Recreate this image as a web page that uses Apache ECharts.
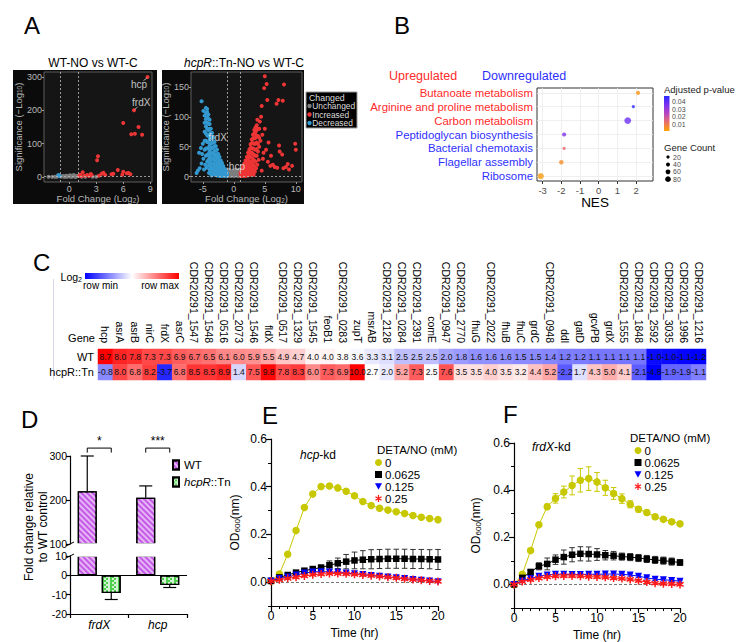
<!DOCTYPE html>
<html>
<head>
<meta charset="utf-8">
<title>Figure</title>
<script src="https://cdn.jsdelivr.net/npm/echarts@6.0.0/dist/echarts.min.js"></script>
<style>
html,body{margin:0;padding:0;background:#ffffff;width:741px;height:642px;overflow:hidden;}
.layer{position:absolute;left:0;top:0;width:741px;height:642px;}
</style>
</head>
<body>
<div id="chartA" class="layer"></div>
<div id="chartB" class="layer"></div>
<div id="chartC" class="layer"></div>
<div id="chartD" class="layer"></div>
<div id="chartE" class="layer"></div>
<div id="chartF" class="layer"></div>
<script>
// ================= DATA =================
// Panel A: volcano plots [log2 fold change, -log10 p]
const aLeftGray = [[-2.3,0.5],[-1.9,0.4],[-1.6,1],[-1.4,0.6],[-1.3,2],[-0.9,1.5],[-0.7,3],[-0.6,0.8],[-0.5,2],[-0.4,0.5],[-0.3,4],[-0.2,1],[-0.1,3],[0,2],[0.1,5],[0.2,1],[0.25,2.5],[0.3,0.5],[0.4,3],[0.5,6],[0.55,3.5],[0.6,1.5],[0.7,0.3],[0.8,2.5],[0.9,4],[1.4,0.5],[1.8,1],[2.6,0.6],[3.0,0.5]];
const aLeftRed = [[8.7,300],[7.2,200],[6.0,162],[7.7,150],[7.3,130],[6.9,128],[8.1,127],[3.2,62],[3.1,50],[3.6,10],[3.8,13],[4.0,6],[2.5,5],[2.4,9],[1.5,14],[1.2,7],[1.7,4],[2.0,6],[3.3,4],[4.7,8],[4.9,10],[5.4,21],[6.0,16],[6.6,12],[6.4,11],[5.9,7],[6.8,8],[1.1,3],[1.3,2],[2.2,3]];
const aLeftBlue = [[-1.1,4],[-1.2,6],[-1.05,2]];
const aLeftLabels = [{name:'hcp', value:[7.75,279]},{name:'frdX', value:[8.0,223]}];
const aLeftLinks = [[[8.65,297],[8.25,289]],[[7.25,202],[7.6,210]]];

const aRightGray = [[-0.95,7],[-0.9,2],[-0.8,5],[-0.8,9],[-0.7,5],[-0.6,3],[-0.5,1],[-0.4,8],[-0.3,6],[-0.2,3],[-0.1,10],[0,1],[0.1,6],[0.2,9],[0.3,2],[0.4,7],[0.5,4],[0.6,8],[0.7,1],[0.8,6],[0.85,10],[0.9,3],[0.95,12],[-1.0,12],[-0.65,11],[0.35,12]];
const aRightBlue = [
[-1.1,1],[-1.1,4],[-1.1,7],[-1.3,2],[-1.3,6],[-1.3,10],[-1.5,1],[-1.5,5],[-1.5,9],[-1.5,13],
[-1.7,3],[-1.7,8],[-1.7,13],[-1.7,18],[-1.9,1],[-1.9,6],[-1.9,12],[-1.9,18],[-1.9,23],
[-2.1,3],[-2.1,9],[-2.1,15],[-2.1,21],[-2.1,27],[-2.3,1],[-2.3,7],[-2.3,13],[-2.3,20],[-2.3,27],[-2.3,33],
[-2.5,4],[-2.5,11],[-2.5,18],[-2.5,25],[-2.5,32],[-2.5,38],[-2.7,2],[-2.7,9],[-2.7,16],[-2.7,24],[-2.7,31],[-2.7,38],[-2.7,45],
[-2.9,5],[-2.9,12],[-2.9,20],[-2.9,28],[-2.9,36],[-2.9,44],[-2.9,51],
[-3.1,3],[-3.1,10],[-3.1,18],[-3.1,27],[-3.1,35],[-3.1,43],[-3.1,51],[-3.1,58],
[-3.3,6],[-3.3,14],[-3.3,22],[-3.3,31],[-3.3,40],[-3.3,49],[-3.3,57],[-3.3,65],
[-3.5,4],[-3.5,12],[-3.5,21],[-3.5,30],[-3.5,39],[-3.5,48],[-3.5,57],[-3.5,66],[-3.5,73],
[-3.7,8],[-3.7,17],[-3.7,27],[-3.7,36],[-3.7,46],[-3.7,55],[-3.7,64],[-3.7,73],[-3.7,80],
[-3.9,12],[-3.9,22],[-3.9,32],[-3.9,42],[-3.9,52],[-3.9,62],[-3.9,71],[-3.9,80],[-3.9,88],[-3.9,95],
[-4.1,18],[-4.1,28],[-4.1,38],[-4.1,48],[-4.1,58],[-4.1,68],[-4.1,78],[-4.1,88],[-4.1,97],[-4.1,104],
[-4.3,25],[-4.3,36],[-4.3,47],[-4.3,58],[-4.3,69],[-4.3,80],[-4.3,90],[-4.3,100],[-4.3,108],[-4.3,113],
[-4.5,35],[-4.5,47],[-4.5,60],[-4.5,72],[-4.5,84],[-4.5,96],[-4.5,107],[-4.5,115],
[-4.7,45],[-4.7,60],[-4.7,75],[-4.7,90],[-4.7,102],
[-5.2,126],[-4.9,110],[-5.0,55],[-5.3,48],[-5.6,40],[-4.9,30],[-5.2,22],[-5.5,14],[-6.0,6],[-5.8,10],[-4.6,20],[-4.8,12],[-5.1,38],[-4.4,15],[-4.0,6],[-3.6,2]];
const aRightRed = [
[1.1,1],[1.1,4],[1.1,7],[1.3,2],[1.3,5],[1.3,9],[1.3,12],[1.5,1],[1.5,5],[1.5,9],[1.5,13],[1.5,17],
[1.7,3],[1.7,7],[1.7,12],[1.7,17],[1.7,22],[1.9,1],[1.9,6],[1.9,11],[1.9,16],[1.9,22],[1.9,27],
[2.1,3],[2.1,9],[2.1,15],[2.1,21],[2.1,27],[2.1,33],[2.3,2],[2.3,8],[2.3,14],[2.3,21],[2.3,28],[2.3,34],[2.3,40],
[2.5,5],[2.5,11],[2.5,18],[2.5,25],[2.5,32],[2.5,39],[2.5,45],[2.7,3],[2.7,10],[2.7,17],[2.7,25],[2.7,33],[2.7,41],[2.7,48],[2.7,54],
[2.9,8],[2.9,15],[2.9,23],[2.9,31],[2.9,40],[2.9,48],[2.9,56],[2.9,62],
[3.1,12],[3.1,20],[3.1,29],[3.1,38],[3.1,47],[3.1,56],[3.1,64],[3.1,70],
[3.3,18],[3.3,27],[3.3,36],[3.3,46],[3.3,55],[3.3,64],[3.3,72],[3.3,78],
[3.5,25],[3.5,35],[3.5,45],[3.5,55],[3.5,65],[3.5,74],[3.5,82],
[3.7,35],[3.7,46],[3.7,57],[3.7,68],[3.7,78],[3.7,86],[3.9,42],[3.9,55],[3.9,68],[3.9,80],[4.1,50],[4.1,65],[4.1,80],
[3.2,3],[3.4,8],[3.6,14],[3.8,20],[4.0,28],
[5.0,168],[5.3,155],[8.1,154],[4.9,148],[5.4,128],[7.2,128],[7.9,127],[6.9,122],[4.5,118],[4.4,100],[4.2,92],[3.8,95],[5.0,80],[4.6,70],[4.3,60],[5.6,57],[5.2,45],[6.0,35],[7.3,52],[7.4,42],[8.4,16],[9.9,55],[10.0,45],[9.4,18],[8.7,21],[6.6,16],[7.0,15],[5.9,18],[8.0,14],[6.3,20],[4.7,30],[4.5,10],[5.5,25],[7.8,37],[8.9,12],[4.8,40]];
const aRightLabels = [{name:'frdX', value:[-2.6,66]},{name:'hcp', value:[0.5,17]}];

// Panel B: GSEA
const bPathways = ['Ribosome','Flagellar assembly','Bacterial chemotaxis','Peptidoglycan biosynthesis','Carbon metabolism','Arginine and proline metabolism','Butanoate metabolism'];
const bUp = [false,false,false,false,true,true,true];
const bNES = [-3.1,-2.0,-1.85,-1.85,1.55,1.85,2.1];
const bPadj = [0.003,0.006,0.014,0.035,0.038,0.047,0.004];
const bCount = [95,55,25,45,110,20,45];
const bPTicks = [0.01,0.02,0.03,0.04];
const bCountTicks = [20,40,60,80];

// Panel C: heatmap
const cGenes = ['hcp','asrA','asrB','nirC','frdX','asrC','CDR20291_1547','CDR20291_1548','CDR20291_0516','CDR20291_2073','CDR20291_1546','fldX','CDR20291_0517','CDR20291_1329','CDR20291_1545','feoB1','CDR20291_0283','zupT','msrAB','CDR20291_2128','CDR20291_0284','CDR20291_2391','comE','CDR20291_0947','CDR20291_2770','fhuG','CDR20291_2022','fhuB','fhuC','grdC','CDR20291_0948','ddl','gatD','gcvPB','grdX','CDR20291_1555','CDR20291_1848','CDR20291_2592','CDR20291_3035','CDR20291_1996','CDR20291_1216'];
const cWT = [8.7,8.0,7.8,7.3,7.3,6.9,6.7,6.5,6.1,6.0,5.9,5.5,4.9,4.7,4.0,4.0,3.8,3.6,3.3,3.1,2.5,2.5,2.5,2.0,1.8,1.6,1.6,1.6,1.5,1.5,1.4,1.2,1.2,1.1,1.1,1.1,1.1,-1.0,-1.0,-1.1,-1.2];
const cHcpR = [-0.8,8.0,6.8,8.2,-3.7,6.8,8.5,8.5,8.9,1.4,7.5,9.8,7.8,8.3,6.0,7.3,6.9,10.0,2.7,2.0,5.2,7.3,2.5,7.6,3.5,3.5,4.0,3.5,3.2,4.4,5.2,-2.2,1.7,4.3,5.0,4.1,-2.1,-4.8,-1.9,-1.9,-1.1];
const cRows = ['hcpR::Tn','WT'];

// Panel D: qRT-PCR
const dGenes = ['frdX','hcp'];
const dWT = [220,205];
const dWTErr = [80,27];
const dHcpR = [-9.2,-5.0];
const dHcpRErr = [3.3,1.3];
const dSig = ['*','***'];

// Panels E/F: growth curves
const timeHr = [0,1,2,3,4,5,6,7,8,9,10,11,12,13,14,15,16,17,18,19,20];
const detaLevels = ['0','0.0625','0.125','0.25'];
const e0 = [0.005,0.034,0.117,0.216,0.313,0.369,0.401,0.403,0.395,0.381,0.362,0.338,0.321,0.310,0.302,0.295,0.288,0.279,0.272,0.267,0.262];
const e0Err = [0,0,0.003,0.003,0.003,0.003,0.003,0.003,0.003,0.003,0.003,0.003,0.003,0.003,0.003,0.003,0.003,0.003,0.003,0.003,0.003];
const e1 = [0.005,0.02,0.03,0.04,0.048,0.055,0.061,0.071,0.079,0.086,0.091,0.094,0.096,0.097,0.098,0.098,0.098,0.097,0.097,0.096,0.095];
const e1Err = [0,0.002,0.003,0.004,0.005,0.007,0.01,0.018,0.022,0.03,0.035,0.038,0.04,0.04,0.04,0.04,0.04,0.04,0.04,0.04,0.042];
const e2 = [0.005,0.015,0.022,0.03,0.038,0.043,0.044,0.043,0.041,0.038,0.035,0.032,0.028,0.025,0.022,0.018,0.015,0.011,0.008,0.005,0.002];
const e2Err = [0,0.003,0.003,0.004,0.004,0.004,0.004,0.004,0.004,0.004,0.004,0.004,0.004,0.004,0.004,0.004,0.004,0.004,0.004,0.004,0.004];
const e3 = [0.004,0.01,0.016,0.021,0.026,0.031,0.034,0.036,0.036,0.035,0.033,0.030,0.027,0.024,0.021,0.018,0.014,0.011,0.008,0.005,0.003];
const e3Err = [0,0.003,0.003,0.004,0.004,0.004,0.004,0.004,0.004,0.004,0.004,0.004,0.004,0.004,0.004,0.004,0.004,0.004,0.004,0.004,0.004];
const f0 = [0.0,0.043,0.144,0.253,0.330,0.365,0.392,0.420,0.442,0.449,0.435,0.410,0.386,0.364,0.340,0.319,0.305,0.287,0.276,0.266,0.257];
const f0Err = [0,0.005,0.006,0.007,0.01,0.02,0.025,0.04,0.05,0.05,0.04,0.032,0.025,0.02,0.015,0.012,0.01,0.01,0.008,0.008,0.008];
const f1 = [0.0,0.028,0.053,0.077,0.087,0.105,0.116,0.126,0.130,0.129,0.127,0.124,0.122,0.118,0.116,0.112,0.108,0.104,0.101,0.097,0.093];
const f1Err = [0,0.005,0.008,0.015,0.025,0.02,0.03,0.03,0.03,0.03,0.025,0.02,0.018,0.015,0.015,0.015,0.015,0.015,0.015,0.015,0.012];
const f2 = [0.0,0.015,0.025,0.035,0.040,0.043,0.043,0.042,0.042,0.043,0.043,0.044,0.044,0.043,0.040,0.035,0.028,0.022,0.020,0.017,0.014];
const f2Err = [0,0.004,0.005,0.005,0.005,0.005,0.005,0.005,0.005,0.005,0.005,0.005,0.005,0.005,0.005,0.005,0.005,0.005,0.005,0.005,0.005];
const f3 = [0.0,0.012,0.020,0.027,0.032,0.035,0.036,0.036,0.035,0.033,0.032,0.030,0.027,0.025,0.021,0.016,0.010,0.005,0.003,0.002,0.0];
const f3Err = [0,0.004,0.005,0.005,0.005,0.005,0.005,0.005,0.005,0.005,0.005,0.005,0.005,0.005,0.005,0.005,0.005,0.005,0.005,0.005,0.005];

// ================= HELPERS =================
const FONT = '"Liberation Sans", Arial, Helvetica, sans-serif';
function txt(x, y, text, o) {
  o = o || {};
  const al = o.align || 'left', va = o.va || 'middle';
  const st = {text: text, fill: o.color || '#000', fontSize: o.size || 12, fontFamily: FONT,
    fontStyle: o.italic ? 'italic' : 'normal', fontWeight: o.bold ? 'bold' : 'normal',
    align: al, textAlign: al, verticalAlign: va, textVerticalAlign: va};
  if (o.rich) st.rich = o.rich;
  if (o.lh) st.lineHeight = o.lh;
  return {type: 'text', x: x, y: y, rotation: o.rot || 0, z: 100, silent: true, style: st};
}
function mk(id) {
  return echarts.init(document.getElementById(id), null, {renderer: 'svg', width: 741, height: 642});
}

// ================= PANEL A =================
(function () {
  const dt = '#b8b8b8';
  const sub = {s: {fontSize: 6.5, color: dt, fontFamily: FONT, verticalAlign: 'bottom'}};
  function xAx(gi, min, max, ticks) {
    return {type: 'value', gridIndex: gi, min: min, max: max,
      axisLine: {show: false, onZero: false},
      axisTick: {show: true, length: 2, customValues: ticks, lineStyle: {color: '#9a9a9a'}},
      axisLabel: {customValues: ticks, color: dt, fontSize: 9, margin: 2, fontFamily: FONT},
      splitLine: {show: false},
      name: 'Fold Change (Log{s|2})', nameLocation: 'middle', nameGap: 11,
      nameTextStyle: {color: dt, fontSize: 9.5, fontFamily: FONT, rich: sub}};
  }
  function yAx(gi, min, max, ticks, gap) {
    return {type: 'value', gridIndex: gi, min: min, max: max,
      axisLine: {show: false, onZero: false},
      axisTick: {show: true, length: 2, customValues: ticks, lineStyle: {color: '#9a9a9a'}},
      axisLabel: {customValues: ticks, color: dt, fontSize: 9, margin: 2, fontFamily: FONT},
      splitLine: {show: false},
      name: 'Significance (\u2212Log{s|10})', nameLocation: 'middle', nameGap: gap,
      nameTextStyle: {color: dt, fontSize: 9.5, fontFamily: FONT, rich: sub}};
  }
  const ml = {silent: true, symbol: 'none', label: {show: false},
    lineStyle: {color: '#bdbdbd', type: [2, 2], width: 0.8},
    data: [{xAxis: -1}, {xAxis: 1}, {yAxis: 1.3}]};
  function pts(name, gi, data, color, withML) {
    const s = {type: 'scatter', name: name, xAxisIndex: gi, yAxisIndex: gi, data: data,
      symbolSize: 4, itemStyle: {color: color, opacity: 1}, silent: true};
    if (withML) s.markLine = ml;
    return s;
  }
  function labs(gi, data) {
    return {type: 'scatter', xAxisIndex: gi, yAxisIndex: gi, data: data, symbolSize: 0, silent: true, z: 5,
      label: {show: true, position: 'inside', formatter: '{b}', color: '#eeeeee', fontSize: 10, fontFamily: FONT}};
  }
  const series = [
    pts('Unchanged', 0, aLeftGray, '#7d7d7d', true),
    pts('Increased', 0, aLeftRed, '#ee3535'),
    pts('Decreased', 0, aLeftBlue, '#3399d0'),
    labs(0, aLeftLabels),
    pts('Unchanged', 1, aRightGray, '#7d7d7d', true),
    pts('Increased', 1, aRightRed, '#ee3535'),
    pts('Decreased', 1, aRightBlue, '#3399d0'),
    labs(1, aRightLabels)
  ];
  aLeftLinks.forEach(function (seg) {
    series.push({type: 'line', xAxisIndex: 0, yAxisIndex: 0, data: seg, symbol: 'none', silent: true,
      lineStyle: {color: '#cccccc', width: 0.8}});
  });
  const legendItems = [['Unchanged', '#7d7d7d'], ['Increased', '#ee3535'], ['Decreased', '#3399d0']];
  const g = [
    txt(24, 25, 'A', {size: 24}),
    {type: 'rect', shape: {x: 13, y: 70, width: 144, height: 134}, style: {fill: '#0b0b0b'}, z: -10},
    {type: 'rect', shape: {x: 162, y: 70, width: 142, height: 134}, style: {fill: '#0b0b0b'}, z: -10},
    txt(93, 63, 'WT-NO vs WT-C', {size: 12, align: 'center'}),
    txt(244, 63, '{i|hcpR}::Tn-NO vs WT-C', {size: 12, align: 'center', rich: {i: {fontStyle: 'italic', fontSize: 12, fontFamily: FONT}}}),
    {type: 'rect', shape: {x: 306, y: 92, width: 51, height: 36}, style: {fill: '#000', stroke: '#9a9a9a', lineWidth: 1}, z: 50},
    txt(309, 97.5, 'Changed', {size: 8.8, color: '#dddddd'})
  ];
  legendItems.forEach(function (it, i) {
    g.push({type: 'circle', shape: {cx: 309.5, cy: 106 + i * 8.5, r: 2.2}, style: {fill: it[1]}, z: 60});
    g.push(txt(312.3, 106 + i * 8.5, it[0], {size: 8.4, color: '#dddddd'}));
  });
  mk('chartA').setOption({
    animation: false,
    textStyle: {fontFamily: FONT},
    graphic: g,
    grid: [
      {left: 44, top: 72, width: 108, height: 110, show: true, backgroundColor: '#151515', borderColor: '#5e5e5e', borderWidth: 1},
      {left: 191, top: 72, width: 111, height: 110, show: true, backgroundColor: '#151515', borderColor: '#5e5e5e', borderWidth: 1}
    ],
    xAxis: [xAx(0, -2.8, 9.2, [0, 3, 6, 9]), xAx(1, -6.9, 11, [-5, 0, 5, 10])],
    yAxis: [yAx(0, -15, 315, [0, 100, 200, 300], 19.5), yAx(1, -9, 175, [0, 50, 100, 150], 18)],
    series: series
  });
})();

// ================= PANEL B =================
(function () {
  const bSize = function (c) { return 2.4 + c * 0.04; };
  const pMin = 0.001, pMax = 0.048;
  const barTop = 96, barH = 35;
  const pColors = ['#ffa500', '#e8706a', '#b845c0', '#7a30f0', '#2a2aff'];
  const red = '#ff2a2a', blue = '#2f2fff';
  const g = [
    txt(394, 25, 'B', {size: 24}),
    txt(389, 76, 'Upregulated', {size: 12.5, color: red}),
    txt(482, 76, 'Downregulated', {size: 12.5, color: blue}),
    txt(664, 89, 'Adjusted p-value', {size: 9.5, color: '#222'}),
    {type: 'rect', shape: {x: 664, y: barTop, width: 5.5, height: barH},
      style: {fill: new echarts.graphic.LinearGradient(0, 1, 0, 0, pColors.map(function (c, i) { return {offset: i / (pColors.length - 1), color: c}; }))}},
    txt(664, 147, 'Gene Count', {size: 9.5, color: '#222'})
  ];
  bPTicks.forEach(function (p) {
    const y = barTop + barH - (p - pMin) / (pMax - pMin) * barH;
    g.push(txt(672, y, p.toFixed(2), {size: 7, color: '#4d4d4d'}));
  });
  bCountTicks.forEach(function (c, i) {
    const y = 157 + i * 7.4;
    g.push({type: 'circle', shape: {cx: 668, cy: y, r: bSize(c) / 2}, style: {fill: '#000'}});
    g.push(txt(673, y, String(c), {size: 7, color: '#4d4d4d'}));
  });
  const idx = [0, 1, 2, 3, 4, 5, 6];
  mk('chartB').setOption({
    animation: false,
    textStyle: {fontFamily: FONT},
    graphic: g,
    grid: {left: 537, top: 88, width: 116, height: 93, show: true, borderColor: '#333', borderWidth: 1, backgroundColor: '#fff'},
    xAxis: {type: 'value', min: -3.3, max: 2.9,
      axisLine: {show: false, onZero: false},
      axisTick: {show: true, length: 3, customValues: [-3, -2, -1, 0, 1, 2], lineStyle: {color: '#333'}},
      axisLabel: {customValues: [-3, -2, -1, 0, 1, 2], fontSize: 9.5, color: '#4d4d4d', margin: 4},
      splitLine: {show: true, lineStyle: {color: '#ebebeb', width: 0.8}},
      name: 'NES', nameLocation: 'middle', nameGap: 14, nameTextStyle: {fontSize: 13.5, color: '#000'}},
    yAxis: {type: 'value', min: -0.35, max: 6.35,
      axisLine: {show: false, onZero: false},
      axisTick: {show: false, customValues: idx},
      axisLabel: {customValues: idx, fontSize: 11.4, margin: 4,
        formatter: function (v) { return bPathways[Math.round(v)]; },
        color: function (v) { return bUp[Math.round(v)] ? red : blue; }},
      splitLine: {show: true, lineStyle: {color: '#ebebeb', width: 0.8}}},
    visualMap: {show: false, type: 'continuous', seriesIndex: 0, dimension: 2, min: pMin, max: pMax, inRange: {color: pColors}},
    series: [{type: 'scatter', data: bNES.map(function (n, i) { return [n, i, bPadj[i], bCount[i]]; }),
      symbolSize: function (v) { return bSize(v[3]); }, silent: true}]
  });
})();

// ================= PANEL C =================
(function () {
  const heatColors = ['#0000ff', '#ffffff', '#ff0000'];
  const lbl = {show: true, fontSize: 8.5, color: '#111', fontFamily: FONT,
    formatter: function (p) { return p.value[2].toFixed(1); }};
  mk('chartC').setOption({
    animation: false,
    textStyle: {fontFamily: FONT},
    graphic: [
      txt(33, 262, 'C', {size: 24}),
      {type: 'rect', shape: {x: 85, y: 273, width: 94, height: 6},
        style: {fill: new echarts.graphic.LinearGradient(0, 0, 1, 0, [{offset: 0, color: '#0000ff'}, {offset: 0.5, color: '#ffffff'}, {offset: 1, color: '#ff0000'}])}},
      txt(82, 277, 'Log{s|2}', {size: 10.5, align: 'right', rich: {s: {fontSize: 7, verticalAlign: 'bottom', fontFamily: FONT}}}),
      txt(83, 285.5, 'row min', {size: 10}),
      txt(179, 285.5, 'row max', {size: 10, align: 'right'}),
      txt(95, 338, 'Gene', {size: 11, align: 'right'}),
      {type: 'line', shape: {x1: 53.5, y1: 279, x2: 53.5, y2: 380}, style: {stroke: '#d8d8e8', lineWidth: 1}}
    ],
    grid: {left: 98, top: 349, width: 608, height: 31},
    xAxis: {type: 'category', data: cGenes, position: 'top',
      axisLine: {show: false}, axisTick: {show: false},
      axisLabel: {rotate: 90, interval: 0, fontSize: 10.5, color: '#000', margin: 6}},
    yAxis: {type: 'category', data: cRows,
      axisLine: {show: false}, axisTick: {show: false},
      axisLabel: {fontSize: 11, color: '#000', margin: 4}},
    visualMap: [
      {show: false, type: 'continuous', seriesIndex: 0, dimension: 2, min: Math.min.apply(null, cWT), max: Math.max.apply(null, cWT), inRange: {color: heatColors}},
      {show: false, type: 'continuous', seriesIndex: 1, dimension: 2, min: Math.min.apply(null, cHcpR), max: Math.max.apply(null, cHcpR), inRange: {color: heatColors}}
    ],
    series: [
      {type: 'heatmap', data: cWT.map(function (v, i) { return [i, 1, v]; }), label: lbl, silent: true},
      {type: 'heatmap', data: cHcpR.map(function (v, i) { return [i, 0, v]; }), label: lbl, silent: true}
    ]
  });
})();

// ================= PANEL D =================
(function () {
  const BAR_W = 19, BAR_GAP = 5, OFF = (BAR_W + BAR_GAP) / 2;
  const wtStyle = {color: '#c65ae8', borderColor: '#000', borderWidth: 1.3,
    decal: {symbol: 'rect', symbolSize: 1, dashArrayX: [1, 0], dashArrayY: [2, 2], rotation: Math.PI / 4, color: 'rgba(255,255,255,0.55)'}};
  const tnStyle = {color: '#4fd04f', borderColor: '#000', borderWidth: 1.3,
    decal: {symbol: 'rect', symbolSize: 1, dashArrayX: [[2, 2], [0, 2, 2]], dashArrayY: [2, 0], color: 'rgba(255,255,255,0.75)'}};
  function errSeries(gi, data, off) {
    return {type: 'custom', xAxisIndex: gi, yAxisIndex: gi, data: data, silent: true, z: 1,
      renderItem: function (params, api) {
        const p0 = api.coord([api.value(0), api.value(1)]);
        const p1 = api.coord([api.value(0), api.value(2)]);
        const x = p0[0] + off;
        return {type: 'group', children: [
          {type: 'line', shape: {x1: x, y1: p0[1], x2: x, y2: p1[1]}, style: {stroke: '#000', lineWidth: 1.2}},
          {type: 'line', shape: {x1: x - 6.5, y1: p1[1], x2: x + 6.5, y2: p1[1]}, style: {stroke: '#000', lineWidth: 1.2}}
        ]};
      }};
  }
  const yCommon = {axisLine: {show: true, onZero: false, lineStyle: {color: '#000', width: 1.2}},
    axisTick: {show: true, length: 4, lineStyle: {color: '#000', width: 1.2}},
    axisLabel: {fontSize: 10.5, color: '#000', margin: 3}, splitLine: {show: false}};
  mk('chartD').setOption({
    animation: false,
    textStyle: {fontFamily: FONT},
    graphic: [
      txt(21, 419, 'D', {size: 24}),
      txt(36, 527, 'Fold change relative\nto WT control', {size: 12, align: 'center', rot: Math.PI / 2, lh: 14}),
      // white band hiding bar edges at the axis break
      {type: 'rect', shape: {x: 71, y: 543.2, width: 117, height: 13.6}, style: {fill: '#ffffff'}, z: 90},
      {type: 'line', shape: {x1: 66, y1: 546, x2: 74, y2: 542}, style: {stroke: '#000', lineWidth: 1}, z: 95},
      {type: 'line', shape: {x1: 66, y1: 558, x2: 74, y2: 554}, style: {stroke: '#000', lineWidth: 1}, z: 95}
    ],
    legend: {left: 172, top: 459, orient: 'vertical', itemWidth: 6, itemHeight: 9, itemGap: 5, padding: 0,
      icon: 'rect', data: ['WT', 'hcpR::Tn'],
      formatter: function (n) { return n === 'WT' ? 'WT' : '{i|hcpR}::Tn'; },
      textStyle: {fontSize: 11.5, color: '#000', rich: {i: {fontStyle: 'italic', fontSize: 11.5, fontFamily: FONT}}}},
    grid: [{left: 70, top: 456, width: 117, height: 88}, {left: 70, top: 556, width: 117, height: 58}],
    xAxis: [
      {type: 'category', gridIndex: 0, data: dGenes, show: false},
      {type: 'category', gridIndex: 1, data: dGenes,
        axisLine: {show: true, onZero: false, lineStyle: {color: '#000', width: 1.2}},
        axisTick: {show: true, length: 4, lineStyle: {color: '#000', width: 1.2}},
        axisLabel: {fontSize: 12, color: '#000', fontStyle: 'italic', margin: 5}}
    ],
    yAxis: [
      Object.assign({type: 'value', gridIndex: 0, min: 100, max: 300, interval: 100}, yCommon),
      Object.assign({type: 'value', gridIndex: 1, min: -20, max: 10, interval: 10}, yCommon)
    ],
    series: [
      {type: 'bar', name: 'WT', xAxisIndex: 0, yAxisIndex: 0, data: dWT, barWidth: BAR_W, barGap: (BAR_GAP / BAR_W * 100) + '%', itemStyle: wtStyle, clip: true, silent: true},
      {type: 'bar', name: 'hcpR::Tn', xAxisIndex: 0, yAxisIndex: 0, data: dHcpR, barWidth: BAR_W, itemStyle: tnStyle, clip: true, silent: true},
      {type: 'bar', name: 'WT', xAxisIndex: 1, yAxisIndex: 1, data: dWT, barWidth: BAR_W, barGap: (BAR_GAP / BAR_W * 100) + '%', itemStyle: wtStyle, clip: true, silent: true},
      {type: 'bar', name: 'hcpR::Tn', xAxisIndex: 1, yAxisIndex: 1, data: dHcpR, barWidth: BAR_W, itemStyle: tnStyle, clip: true, silent: true,
        markLine: {silent: true, symbol: 'none', label: {show: false}, lineStyle: {color: '#000', type: 'solid', width: 1.2}, data: [{yAxis: 0}]}},
      errSeries(0, dWT.map(function (v, i) { return [i, v, v + dWTErr[i]]; }), -OFF),
      errSeries(1, dHcpR.map(function (v, i) { return [i, v, v - dHcpRErr[i]]; }), OFF),
      {type: 'custom', xAxisIndex: 0, yAxisIndex: 0, silent: true, clip: false,
        data: dSig.map(function (s, i) { return [i, 318, s]; }),
        renderItem: function (params, api) {
          const p = api.coord([api.value(0), api.value(1)]);
          const s = dSig[params.dataIndex];
          return {type: 'group', children: [
            {type: 'polyline', shape: {points: [[p[0] - OFF, p[1] + 4.5], [p[0] - OFF, p[1]], [p[0] + OFF, p[1]], [p[0] + OFF, p[1] + 4.5]]}, style: {stroke: '#000', lineWidth: 1, fill: null}},
            {type: 'text', x: p[0], y: p[1] - 1, style: {text: s, fontSize: 12, fontFamily: FONT, fill: '#000', align: 'center', verticalAlign: 'bottom', textAlign: 'center', textVerticalAlign: 'bottom'}}
          ]};
        }}
    ]
  });
})();

// ================= PANELS E & F =================
const TRI = 'path://M0,0 L10,0 L5,9 Z';
const STAR = 'path://M-0.9,-5 L0.9,-5 L0.9,5 L-0.9,5 Z M3.88,-3.28 L4.78,-1.72 L-3.88,3.28 L-4.78,1.72 Z M4.78,1.72 L3.88,3.28 L-4.78,-1.72 L-3.88,-3.28 Z';
function growthOption(cfg) {
  const colors = ['#c8c800', '#000000', '#0000ff', '#ff1a1a'];
  const symbols = ['circle', 'rect', TRI, STAR];
  const sizes = [7.5, 6.5, 7, 8];
  const series = [];
  cfg.series.forEach(function (arr, k) {
    series.push({type: 'custom', silent: true, z: 2,
      data: timeHr.map(function (t, i) { return [t, arr[i], cfg.errs[k][i]]; }),
      renderItem: function (params, api) {
        const t = api.value(0), m = api.value(1), e = api.value(2);
        if (!e) return null;
        const a = api.coord([t, m - e]), b = api.coord([t, m + e]);
        const st = {stroke: k === 1 ? '#333' : colors[k], lineWidth: 1};
        return {type: 'group', children: [
          {type: 'line', shape: {x1: a[0], y1: a[1], x2: b[0], y2: b[1]}, style: st},
          {type: 'line', shape: {x1: a[0] - 2.8, y1: a[1], x2: a[0] + 2.8, y2: a[1]}, style: st},
          {type: 'line', shape: {x1: b[0] - 2.8, y1: b[1], x2: b[0] + 2.8, y2: b[1]}, style: st}
        ]};
      }});
  });
  cfg.series.forEach(function (arr, k) {
    const s = {type: 'line', name: detaLevels[k], silent: true, z: 3 + k,
      data: timeHr.map(function (t, i) { return [t, arr[i]]; }),
      symbol: symbols[k], symbolSize: sizes[k], showAllSymbol: true,
      itemStyle: {color: colors[k]}, lineStyle: {color: colors[k], width: 1}};
    if (k === 0) {
      s.markLine = {silent: true, symbol: 'none', label: {show: false}, z: 1,
        lineStyle: {color: '#777', type: [3, 2], width: 1}, data: [{yAxis: 0}]};
    }
    series.push(s);
  });
  const yTicks = [0, 0.2, 0.4, 0.6];
  return {
    animation: false,
    textStyle: {fontFamily: FONT},
    graphic: [
      txt(cfg.letterX, cfg.letterY, cfg.letter, {size: 24}),
      txt(cfg.titleX, cfg.titleY, cfg.title, {size: 12, rich: {i: {fontStyle: 'italic', fontSize: 12, fontFamily: FONT}}}),
      txt(cfg.legX, cfg.legY, 'DETA/NO (mM)', {size: 11.5, lh: 11})
    ],
    legend: {left: cfg.legLeft, top: cfg.legTop, orient: 'vertical', padding: 0, itemGap: 0,
      itemWidth: 7, itemHeight: 7,
      data: detaLevels.map(function (n, k) { return {name: n, icon: symbols[k]}; }),
      textStyle: {fontSize: 11.5, color: '#000', lineHeight: 11, padding: [0, 0, 0, -2]}},
    grid: {left: cfg.left, top: cfg.top, width: cfg.w, height: cfg.h},
    xAxis: {type: 'value', min: 0, max: 20, interval: 5,
      axisLine: {show: true, onZero: false, lineStyle: {color: '#000', width: 1.2}},
      axisTick: {show: true, length: 5, lineStyle: {color: '#000', width: 1.2}},
      minorTick: {show: true, splitNumber: 5, length: 3, lineStyle: {color: '#000', width: 1}},
      axisLabel: {fontSize: 12, color: '#000', margin: 4},
      splitLine: {show: false}, minorSplitLine: {show: false},
      name: 'Time (hr)', nameLocation: 'middle', nameGap: 21, nameTextStyle: {fontSize: 12, color: '#000'}},
    yAxis: [
      {type: 'value', min: -0.1, max: 0.6,
        axisLine: {show: true, onZero: false, lineStyle: {color: '#000', width: 1.2}},
        axisTick: {show: true, length: 5, customValues: yTicks, lineStyle: {color: '#000', width: 1.2}},
        axisLabel: {customValues: yTicks, fontSize: 12, color: '#000', margin: 4, formatter: function (v) { return v.toFixed(1); }},
        splitLine: {show: false},
        name: 'OD{s|600}(nm)', nameLocation: 'middle', nameGap: cfg.yNameGap,
        nameTextStyle: {fontSize: 12, color: '#000', rich: {s: {fontSize: 8, verticalAlign: 'bottom', fontFamily: FONT}}}},
      {type: 'value', min: -0.1, max: 0.6, interval: 0.1, position: 'left',
        axisLine: {show: false, onZero: false},
        axisTick: {show: true, length: 3, lineStyle: {color: '#000', width: 1}},
        axisLabel: {show: false}, splitLine: {show: false}}
    ],
    series: series
  };
}
mk('chartE').setOption(growthOption({
  letter: 'E', letterX: 262, letterY: 415, title: '{i|hcp}-kd', titleX: 300, titleY: 455,
  legX: 377, legY: 450, legLeft: 375, legTop: 456.5,
  left: 271, top: 439, w: 167, h: 167, yNameGap: 30,
  series: [e0, e1, e2, e3], errs: [e0Err, e1Err, e2Err, e3Err]
}));
mk('chartF').setOption(growthOption({
  letter: 'F', letterX: 503, letterY: 414, title: '{i|frdX}-kd', titleX: 532, titleY: 447,
  legX: 630, legY: 437.5, legLeft: 634.5, legTop: 444.5,
  left: 514, top: 443, w: 166, h: 166, yNameGap: 32,
  series: [f0, f1, f2, f3], errs: [f0Err, f1Err, f2Err, f3Err]
}));
</script>
</body>
</html>
